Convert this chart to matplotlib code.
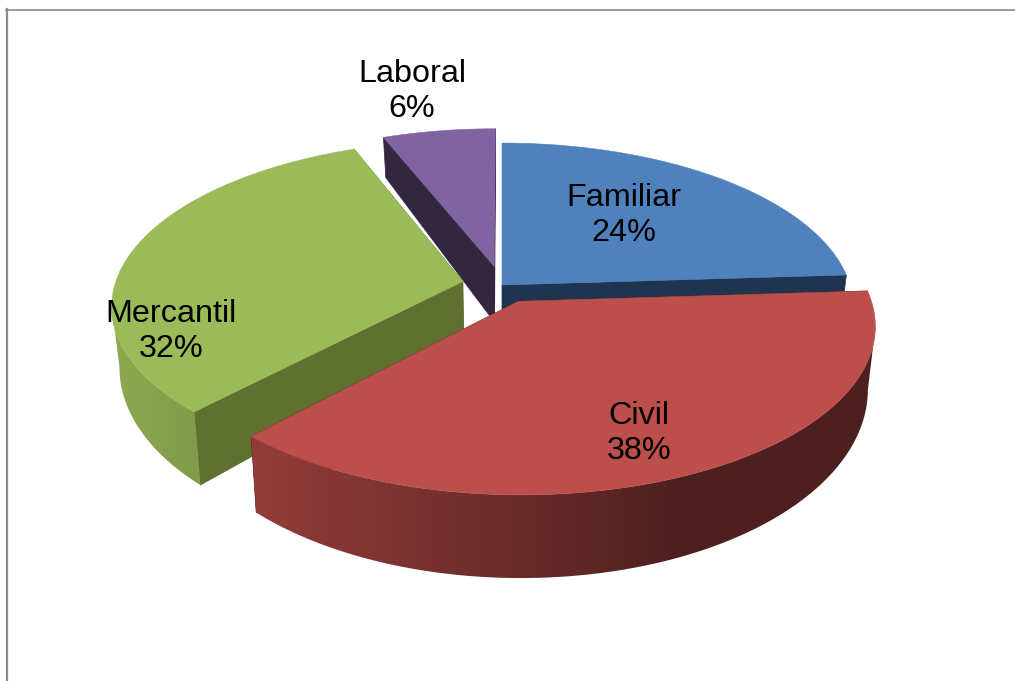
import numpy as np
import matplotlib
matplotlib.use('Agg')
import matplotlib.pyplot as plt
from matplotlib.lines import Line2D
from matplotlib.patches import Polygon

categories = ['Familiar', 'Civil', 'Mercantil', 'Laboral']
values = [24, 38, 32, 6]

top_colors = ['#4F81BD', '#BC4E4B', '#9BBB59', '#8064A2']
side_colors = ['#1F344E', '#4D1F1E', '#5F7030', '#33263F']
explode = [0.0, 0.11, 0.115, 0.118]
label_pos = [(624, 215.5), (639, 433.5), (171, 331.5), (412, 91.5)]

# fake 3d camera, numbers fitted on the picture (pixels)
cx, cy = 502.0, 285.0
a, b, k = 348.0, 161.7, 0.139


def project(x, y):
	s = 1.0/(1.0 + k*y)
	return cx + a*x*s, cy - b*y*s


def drop(px, py):
	# same point on the lower face of the pie
	return cx + (px - cx)*0.98, py + 40.0 + (py - 135.0)*0.12


def shade(color, xs):
	f = np.interp(xs, [120, 250, 530, 680], [0.9, 0.78, 0.55, 0.41])
	return np.outer(f, matplotlib.colors.to_rgb(color))


fig = plt.figure(figsize=(10.15, 6.81), dpi=100)
ax = fig.add_axes([0, 0, 1, 1])
ax.axis('off')

fig.add_artist(Line2D([7/1015, 7/1015], [0, 1 - 9/681], color='#8a8a8a', lw=1.6))
fig.add_artist(Line2D([6/1015, 1], [1 - 9.5/681, 1 - 9.5/681], color='#8a8a8a', lw=1.2))

total = float(sum(values))
fracs = np.array(values)/total
ends = np.cumsum(fracs)*2*np.pi
starts = ends - fracs*2*np.pi

# back slices first
z = 1
for i in [3, 0, 2, 1]:
	mid = (starts[i] + ends[i])/2
	ex = explode[i]*np.sin(mid)
	ey = explode[i]*np.cos(mid)
	t = np.linspace(starts[i], ends[i], 200)
	px, py = project(ex + np.sin(t), ey + np.cos(t))
	ax0, ay0 = project(ex, ey)
	bx, by = drop(px, py)
	abx, aby = drop(ax0, ay0)

	for j in [0, -1]:
		face = [(ax0, ay0), (px[j], py[j]), (bx[j], by[j]), (abx, aby)]
		ax.add_patch(Polygon(face, closed=True, fc=side_colors[i], ec=side_colors[i], lw=0.5, zorder=z))

	# rim, only the part turned to the viewer, between the two silhouette points
	front = np.where(np.cos(t) < 0.05)[0]
	if len(front) > 2:
		i0 = front[np.argmax(px[front])]
		i1 = front[np.argmin(px[front])]
		lo, hi = min(i0, i1), max(i0, i1) + 1
		xs = np.arange(0, 1015)
		grad = shade(top_colors[i], xs)[np.newaxis, :, :]
		im = ax.imshow(grad, extent=[0, 1015, 681, 0], aspect='auto', interpolation='bilinear', zorder=z + 1)
		outline = list(zip(px[lo:hi], py[lo:hi])) + list(zip(bx[lo:hi][::-1], by[lo:hi][::-1]))
		rim = Polygon(outline, closed=True, transform=ax.transData)
		im.set_clip_path(rim)

	top = [(ax0, ay0)] + list(zip(px, py))
	ax.add_patch(Polygon(top, closed=True, fc=top_colors[i], ec=top_colors[i], lw=0.4, zorder=z + 2))
	z += 3

for i in range(len(categories)):
	ax.text(label_pos[i][0], label_pos[i][1], '%s\n%d%%' % (categories[i], values[i]),
		ha='center', va='center', ma='center', fontsize=23.3, color='black',
		family='Liberation Sans', linespacing=1.23, zorder=100)

ax.set_xlim(0, 1015)
ax.set_ylim(681, 0)

fig.savefig('out.png', dpi=100, facecolor='white')
